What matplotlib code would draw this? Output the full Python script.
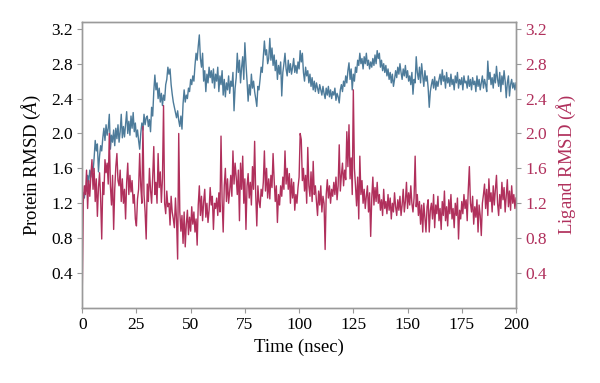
import numpy as np
import matplotlib
matplotlib.use('Agg')
import matplotlib.pyplot as plt

plt.rcParams['font.family'] = ['Liberation Serif', 'DejaVu Serif']
plt.rcParams['mathtext.fontset'] = 'custom'
plt.rcParams['mathtext.rm'] = 'Liberation Serif'
plt.rcParams['mathtext.it'] = 'Liberation Serif:italic'

# RMSD values, every 0.5 ns from 0 to 200 ns
protein_rmsd = [
    1.22, 1.32, 1.26, 1.40, 1.34, 1.52, 1.44, 1.58, 1.50, 1.62, 1.56, 1.72, 1.92, 1.80, 1.88, 1.56, 1.74, 1.86, 1.80, 1.95,
    2.06, 1.92, 2.10, 1.98, 2.06, 2.22, 1.82, 1.98, 1.90, 2.04, 1.86, 2.06, 1.94, 2.10, 1.90, 2.02, 2.22, 1.95, 2.08, 1.96,
    2.10, 2.25, 2.00, 2.14, 1.98, 2.20, 2.06, 2.24, 2.02, 2.12, 1.96, 2.04, 1.92, 1.82, 2.00, 2.12, 2.04, 2.22, 2.10, 2.18,
    2.20, 2.08, 2.16, 2.02, 2.30, 2.20, 2.48, 2.67, 2.50, 2.58, 2.40, 2.52, 2.36, 2.46, 2.32, 2.44, 2.38, 2.56, 2.62, 2.76,
    2.68, 2.74, 2.56, 2.45, 2.36, 2.30, 2.24, 2.18, 2.26, 2.15, 2.08, 2.20, 2.05, 2.34, 2.50, 2.36, 2.44, 2.40, 2.52, 2.48,
    2.62, 2.56, 2.66, 2.60, 2.78, 2.92, 2.84, 3.00, 3.13, 2.86, 2.76, 2.92, 2.60, 2.72, 2.48, 2.68, 2.58, 2.76, 2.64, 2.72,
    2.58, 2.74, 2.52, 2.68, 2.60, 2.76, 2.48, 2.66, 2.56, 2.72, 2.44, 2.62, 2.42, 2.58, 2.50, 2.66, 2.46, 2.60, 2.54, 2.70,
    2.26, 2.52, 2.64, 2.92, 2.70, 2.84, 2.58, 2.76, 2.88, 2.62, 3.04, 2.80, 2.60, 2.37, 2.56, 2.44, 2.68, 2.52, 2.60, 2.48,
    2.40, 2.31, 2.54, 2.50, 2.62, 2.76, 2.70, 2.88, 3.06, 2.90, 2.96, 2.80, 2.86, 3.09, 2.84, 2.98, 2.78, 2.90, 2.72, 2.84,
    2.62, 2.78, 2.68, 2.82, 2.43, 2.70, 2.80, 2.92, 2.74, 2.66, 2.84, 2.70, 2.80, 2.68, 2.76, 2.86, 2.70, 2.78, 2.69, 2.82,
    2.74, 2.95, 2.82, 2.92, 2.70, 2.60, 2.76, 2.66, 2.72, 2.58, 2.68, 2.54, 2.64, 2.50, 2.60, 2.48, 2.58, 2.52, 2.46, 2.56,
    2.50, 2.44, 2.54, 2.46, 2.40, 2.52, 2.44, 2.54, 2.42, 2.50, 2.40, 2.48, 2.44, 2.52, 2.38, 2.46, 2.42, 2.35, 2.50, 2.56,
    2.48, 2.60, 2.54, 2.66, 2.58, 2.72, 2.81, 2.62, 2.74, 2.50, 2.68, 2.60, 2.76, 2.70, 2.84, 2.78, 2.92, 2.80, 2.86, 2.74,
    2.88, 2.80, 2.92, 2.78, 2.84, 2.74, 2.82, 2.76, 2.86, 2.78, 2.90, 2.80, 2.95, 2.86, 2.92, 2.76, 2.84, 2.72, 2.80, 2.70,
    2.78, 2.66, 2.74, 2.62, 2.70, 2.58, 2.68, 2.54, 2.62, 2.72, 2.64, 2.76, 2.68, 2.80, 2.70, 2.62, 2.74, 2.66, 2.78, 2.64,
    2.72, 2.60, 2.66, 2.56, 2.70, 2.45, 2.62, 2.58, 2.88, 2.70, 2.62, 2.76, 2.58, 2.80, 2.66, 2.54, 2.72, 2.60, 2.66, 2.52,
    2.30, 2.48, 2.56, 2.62, 2.52, 2.65, 2.50, 2.60, 2.54, 2.62, 2.68, 2.56, 2.73, 2.60, 2.66, 2.52, 2.70, 2.58, 2.64, 2.54,
    2.68, 2.56, 2.62, 2.50, 2.66, 2.58, 2.70, 2.52, 2.62, 2.56, 2.64, 2.50, 2.66, 2.58, 2.60, 2.52, 2.66, 2.54, 2.62, 2.50,
    2.64, 2.56, 2.60, 2.48, 2.66, 2.54, 2.62, 2.50, 2.58, 2.66, 2.52, 2.62, 2.56, 2.48, 2.83, 2.62, 2.70, 2.56, 2.64, 2.52,
    2.68, 2.58, 2.77, 2.62, 2.54, 2.70, 2.48, 2.66, 2.56, 2.72, 2.60, 2.41, 2.58, 2.66, 2.43, 2.56, 2.62, 2.52, 2.58, 2.50,
    2.58,
]

ligand_rmsd = [
    0.15, 1.22, 1.40, 1.30, 1.58, 1.14, 1.46, 1.28, 1.52, 1.70, 1.36, 1.60, 1.22, 1.48, 1.05, 1.38, 1.55, 1.25, 0.79, 1.44,
    1.30, 1.70, 1.55, 1.66, 1.42, 2.00, 1.40, 1.18, 1.52, 0.90, 1.36, 1.62, 1.77, 1.46, 1.40, 1.58, 1.22, 1.48, 1.20, 1.36,
    1.02, 1.44, 1.66, 1.30, 1.52, 1.33, 1.46, 1.20, 1.30, 1.02, 0.94, 1.25, 1.36, 1.77, 1.40, 1.20, 2.08, 1.30, 1.10, 0.79,
    1.42, 1.22, 1.60, 1.35, 1.20, 1.50, 1.85, 1.30, 1.44, 1.20, 1.77, 1.38, 1.56, 1.21, 1.48, 2.32, 1.20, 1.08, 1.34, 1.16,
    1.20, 0.95, 1.28, 1.10, 1.02, 0.92, 1.26, 1.00, 0.56, 2.00, 1.10, 0.88, 1.06, 0.74, 1.10, 0.70, 0.96, 1.12, 0.84, 1.04,
    0.88, 1.16, 0.96, 1.10, 0.87, 1.02, 0.72, 1.18, 1.40, 1.06, 1.28, 1.00, 1.22, 1.36, 1.04, 1.20, 0.98, 1.12, 1.38, 1.18,
    1.28, 0.90, 1.20, 1.14, 1.26, 1.06, 1.32, 1.10, 1.97, 1.24, 0.87, 1.40, 1.60, 1.22, 1.48, 1.20, 1.34, 1.52, 1.28, 1.80,
    1.42, 1.66, 1.50, 1.30, 1.58, 1.00, 1.66, 1.36, 1.74, 1.20, 1.48, 0.90, 1.40, 1.54, 1.26, 1.44, 1.18, 1.62, 1.36, 1.91,
    1.30, 0.94, 1.40, 1.22, 1.15, 1.36, 1.28, 1.44, 1.80, 1.34, 1.60, 1.26, 1.48, 1.25, 1.52, 1.38, 1.77, 1.47, 1.22, 1.40,
    0.98, 1.30, 1.18, 1.40, 1.28, 1.50, 1.36, 1.80, 1.42, 1.60, 1.36, 1.54, 1.20, 1.48, 1.26, 1.44, 1.12, 1.30, 1.20, 1.38,
    1.50, 2.00, 1.93, 1.46, 1.60, 1.34, 1.52, 1.20, 1.84, 1.40, 1.28, 1.56, 1.22, 1.68, 1.30, 1.40, 1.22, 1.06, 1.34, 1.18,
    1.40, 1.10, 1.28, 1.20, 0.67, 1.30, 1.47, 1.26, 1.40, 1.20, 1.36, 1.28, 1.44, 1.30, 1.50, 1.24, 1.40, 1.87, 1.34, 1.52,
    1.66, 1.40, 1.58, 1.47, 2.02, 1.62, 2.10, 1.48, 1.72, 1.30, 2.50, 1.60, 1.40, 1.17, 1.50, 1.02, 1.74, 1.30, 1.46, 1.20,
    1.36, 1.14, 1.28, 1.40, 1.10, 1.32, 0.82, 1.26, 1.50, 1.18, 1.38, 1.22, 1.44, 1.20, 1.30, 1.12, 1.24, 1.06, 1.36, 1.14,
    1.22, 1.08, 1.30, 1.12, 1.26, 1.02, 1.20, 1.10, 1.32, 1.16, 1.06, 1.24, 1.12, 1.28, 1.06, 1.18, 1.36, 1.10, 1.22, 1.44,
    1.14, 1.32, 1.18, 1.40, 1.20, 1.10, 1.26, 1.74, 1.16, 1.30, 1.06, 1.22, 0.96, 1.18, 0.87, 1.20, 1.04, 0.87, 1.16, 1.24,
    0.87, 1.12, 1.20, 1.02, 1.30, 0.92, 1.18, 1.08, 1.28, 1.00, 1.14, 0.90, 1.22, 1.06, 1.34, 1.00, 1.16, 0.94, 1.24, 1.08,
    1.30, 1.02, 1.14, 0.92, 1.20, 1.06, 1.26, 0.79, 1.12, 1.02, 1.22, 1.08, 1.30, 1.14, 1.24, 1.00, 1.36, 1.62, 1.20, 1.10,
    1.28, 0.96, 1.16, 1.04, 1.24, 0.87, 1.18, 1.06, 0.83, 1.20, 1.30, 1.42, 1.14, 1.36, 1.06, 1.48, 1.22, 1.32, 1.10, 1.40,
    1.18, 1.36, 1.52, 1.20, 1.06, 1.30, 1.14, 1.44, 1.24, 1.38, 1.10, 1.28, 1.47, 1.16, 1.34, 1.12, 1.40, 1.20, 1.30, 1.14,
    1.26,
]

t_prot = np.linspace(0, 200, len(protein_rmsd))
t_lig = np.linspace(0, 200, len(ligand_rmsd))

x_ticks = [0, 25, 50, 75, 100, 125, 150, 175, 200]
y_ticks = [0.4, 0.8, 1.2, 1.6, 2.0, 2.4, 2.8, 3.2]

blue = '#4d7b9a'
red = '#b0305c'
spine_gray = '#9a9a9a'

fig = plt.figure(figsize=(6, 3.83), dpi=100)
ax = fig.add_axes([0.137, 0.196, 0.723, 0.747])
ax2 = ax.twinx()

ax.plot(t_prot, protein_rmsd, color=blue, lw=1.0)
ax2.plot(t_lig, ligand_rmsd, color=red, lw=1.0)

for a in (ax, ax2):
    a.set_xlim(0, 200)
    a.set_ylim(0, 3.28)
    a.set_yticks(y_ticks)
    a.set_yticklabels([f'{v:.1f}' for v in y_ticks])
    for s in a.spines.values():
        s.set_color(spine_gray)
        s.set_linewidth(1.0)
    a.tick_params(direction='out', length=3.5, width=0.8, color=spine_gray,
                  labelsize=12.5, pad=3)

ax.set_xticks(x_ticks)
ax2.tick_params(axis='y', labelcolor=red)

ax.set_xlabel('Time (nsec)', fontsize=13.5, labelpad=4)
ax.set_ylabel('Protein RMSD ($\\mathit{Å}$)', fontsize=13.5, labelpad=6)
ax2.set_ylabel('Ligand RMSD ($\\mathit{Å}$)', fontsize=13.5, color=red, labelpad=6)

fig.savefig('out.png', dpi=100)
